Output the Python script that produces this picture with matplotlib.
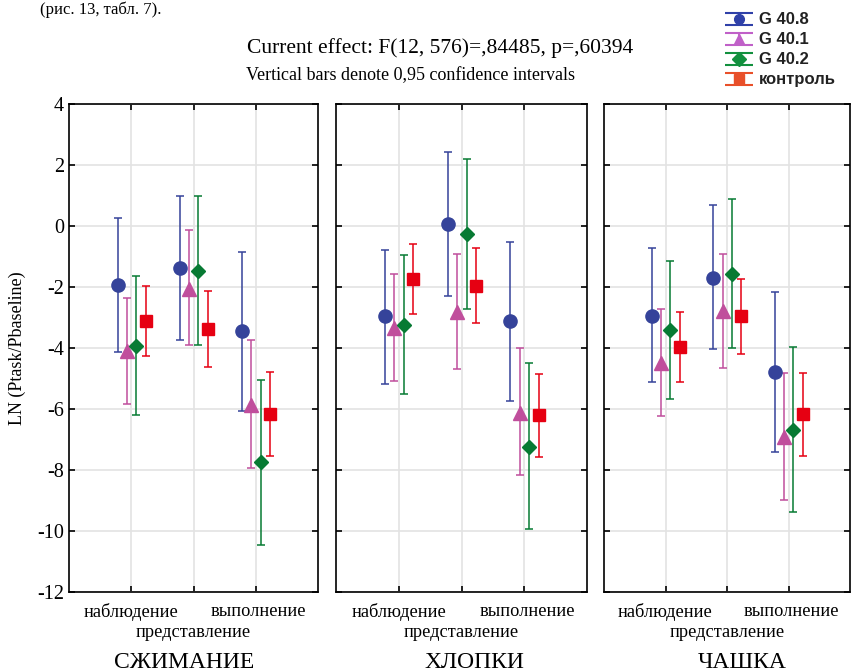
import numpy as np
import matplotlib.pyplot as plt
from matplotlib.legend_handler import HandlerErrorbar

# conditions and groups
panels = ['СЖИМАНИЕ', 'ХЛОПКИ', 'ЧАШКА']
conditions = ['наблюдение', 'представление', 'выполнение']
groups = ['G 40.8', 'G 40.1', 'G 40.2', 'контроль']

# means and 95% CI bounds, per panel (rows) and condition (columns)
g408_mean = [[-1.93, -1.39, -3.44], [-2.95, 0.07, -3.13], [-2.94, -1.69, -4.79]]
g408_lo = [[-4.14, -3.74, -6.08], [-5.17, -2.30, -5.74], [-5.11, -4.03, -7.41]]
g408_hi = [[0.25, 0.97, -0.84], [-0.78, 2.43, -0.51], [-0.71, 0.68, -2.17]]

g401_mean = [[-4.10, -2.05, -5.87], [-3.34, -2.81, -6.12], [-4.50, -2.80, -6.93]]
g401_lo = [[-5.85, -3.91, -7.93], [-5.08, -4.68, -8.17], [-6.23, -4.67, -8.98]]
g401_hi = [[-2.35, -0.14, -3.74], [-1.56, -0.92, -4.00], [-2.73, -0.92, -4.81]]

g402_mean = [[-3.93, -1.49, -7.75], [-3.25, -0.27, -7.23], [-3.41, -1.57, -6.69]]
g402_lo = [[-6.20, -3.91, -10.47], [-5.51, -2.71, -9.93], [-5.68, -4.01, -9.38]]
g402_hi = [[-1.65, 0.98, -5.05], [-0.94, 2.19, -4.50], [-1.14, 0.87, -3.96]]

ctrl_mean = [[-3.10, -3.38, -6.17], [-1.75, -1.97, -6.20], [-3.97, -2.95, -6.16]]
ctrl_lo = [[-4.26, -4.61, -7.55], [-2.90, -3.19, -7.58], [-5.13, -4.20, -7.54]]
ctrl_hi = [[-1.96, -2.14, -4.80], [-0.60, -0.71, -4.84], [-2.82, -1.73, -4.81]]

series = [
    (g408_mean, g408_lo, g408_hi, '#35439a', 'o', 9.5, -0.22),
    (g401_mean, g401_lo, g401_hi, '#c04e9c', '^', 10, -0.07),
    (g402_mean, g402_lo, g402_hi, '#077a33', 'D', 7, 0.08),
    (ctrl_mean, ctrl_lo, ctrl_hi, '#e60012', 's', 9, 0.23),
]
leg_colors = ['#2f40a8', '#c060c8', '#12903e', '#e8502a']

plt.rcParams['font.family'] = ['Liberation Serif', 'DejaVu Serif']
plt.rcParams['axes.unicode_minus'] = False

fig = plt.figure(figsize=(8.51, 6.71), dpi=100)

W, H = 851, 671
lefts = [69, 336, 604]
widths = [249, 251, 246]
top, bottom = 104, 592
title_x = [184, 474, 742]

axes = []
for p in range(3):
    ax = fig.add_axes([lefts[p] / W, 1 - bottom / H, widths[p] / W, (bottom - top) / H])
    axes.append(ax)
    for mean, lo, hi, color, marker, ms, off in series:
        xs = [c + 1 + off for c in range(3)]
        m = mean[p]
        err = [[m[i] - lo[p][i] for i in range(3)], [hi[p][i] - m[i] for i in range(3)]]
        ax.errorbar(xs, m, yerr=err, fmt=marker, color=color, ms=ms, mec=color,
                    ecolor=color, elinewidth=1.1, capsize=3, capthick=1.1, zorder=3)
    ax.set_xlim(0, 4)
    ax.set_ylim(-12, 4)
    ax.set_yticks(range(-12, 5, 2))
    ax.set_xticks([1, 2, 3])
    ax.set_xticklabels([])
    ax.grid(True, color='#e3e3e3', linewidth=1.2)
    ax.set_axisbelow(True)
    ax.tick_params(direction='in', length=4, width=1.2, top=True, right=True)
    for s in ax.spines.values():
        s.set_linewidth(1.2)
    if p == 0:
        ax.tick_params(labelsize=14.5)
        ax.set_ylabel('LN (Ptask/Pbaseline)', fontsize=13, labelpad=8)
    else:
        ax.set_yticklabels([])
    tr = ax.get_xaxis_transform()
    ax.text(1, -0.04, conditions[0], transform=tr, ha='center', va='center', fontsize=13.2)
    ax.text(3.05, -0.04, conditions[2], transform=tr, ha='center', va='center', fontsize=13.2)
    ax.text(2, -0.082, conditions[1], transform=tr, ha='center', va='center', fontsize=13.2)
    fig.text(title_x[p] / W, 1 - 662 / H, panels[p], ha='center', va='center', fontsize=17)

fig.text(440 / W, 1 - 48 / H, 'Current effect: F(12, 576)=,84485, p=,60394',
         ha='center', va='center', fontsize=15.5)
fig.text(411 / W, 1 - 76 / H, 'Vertical bars denote 0,95 confidence intervals',
         ha='center', va='center', fontsize=13)
fig.text(40 / W, 1 - 1 / H, '(рис. 13, табл. 7).', ha='left', va='top', fontsize=12)

# legend handles: empty errorbar containers carrying only the style
handles = []
for c, (_, _, _, _, mk, _, _) in zip(leg_colors, series):
    h = axes[0].errorbar([np.nan], [np.nan], yerr=[1], fmt=mk, color=c, ms=7, mec=c,
                         ecolor=c, elinewidth=1.5, capsize=10, capthick=1.5)
    handles.append(h)
leg = fig.legend(handles, groups, loc='upper left', bbox_to_anchor=(716 / W, 1 - 4 / H),
                 frameon=False, borderpad=0, handlelength=1.7, handletextpad=0.4,
                 labelspacing=0.3,
                 handler_map={type(handles[0]): HandlerErrorbar(xerr_size=0.5, yerr_size=0.36)},
                 prop={'family': 'Liberation Sans', 'weight': 'bold', 'size': 12})
for t in leg.get_texts():
    t.set_color('#222222')

fig.savefig('out.png', dpi=100)
